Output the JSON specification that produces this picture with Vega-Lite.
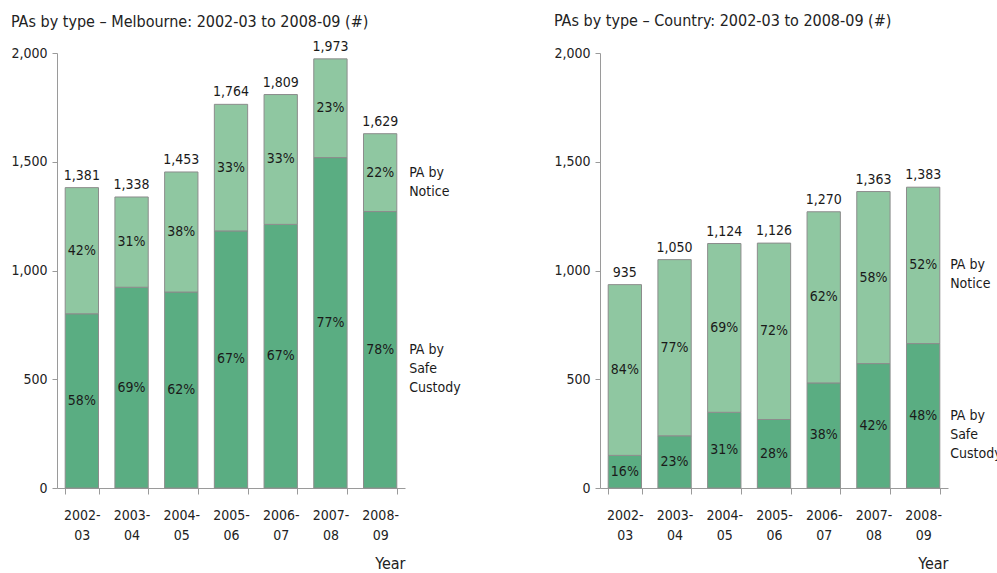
{
  "$schema": "https://vega.github.io/schema/vega-lite/v6.json",
  "background": "white",
  "padding": {"left": 10, "top": 13, "right": 0, "bottom": 0},
  "spacing": 92,
  "config": {
    "font": "DejaVu Sans Condensed",
    "view": {"stroke": null},
    "text": {"font": "DejaVu Sans Condensed", "fontSize": 14, "color": "#1a1a1a"},
    "axis": {"labelFont": "DejaVu Sans Condensed", "titleFont": "DejaVu Sans Condensed", "labelFontSize": 14, "labelColor": "#222", "domainColor": "#9a9a9a", "tickColor": "#9a9a9a", "grid": false, "titleFontWeight": "normal", "titleColor": "#222"},
    "title": {"font": "DejaVu Sans Condensed", "fontSize": 16, "fontWeight": "normal", "color": "#222"}
  },
  "datasets": {
    "mel": [
      {"year": "2002-03", "type": "PA by\nSafe\nCustody", "count": 801, "pct": 0.58},
      {"year": "2002-03", "type": "PA by\nNotice", "count": 580, "pct": 0.42},
      {"year": "2003-04", "type": "PA by\nSafe\nCustody", "count": 923, "pct": 0.69},
      {"year": "2003-04", "type": "PA by\nNotice", "count": 415, "pct": 0.31},
      {"year": "2004-05", "type": "PA by\nSafe\nCustody", "count": 901, "pct": 0.62},
      {"year": "2004-05", "type": "PA by\nNotice", "count": 552, "pct": 0.38},
      {"year": "2005-06", "type": "PA by\nSafe\nCustody", "count": 1182, "pct": 0.67},
      {"year": "2005-06", "type": "PA by\nNotice", "count": 582, "pct": 0.33},
      {"year": "2006-07", "type": "PA by\nSafe\nCustody", "count": 1212, "pct": 0.67},
      {"year": "2006-07", "type": "PA by\nNotice", "count": 597, "pct": 0.33},
      {"year": "2007-08", "type": "PA by\nSafe\nCustody", "count": 1519, "pct": 0.77},
      {"year": "2007-08", "type": "PA by\nNotice", "count": 454, "pct": 0.23},
      {"year": "2008-09", "type": "PA by\nSafe\nCustody", "count": 1271, "pct": 0.78},
      {"year": "2008-09", "type": "PA by\nNotice", "count": 358, "pct": 0.22}
    ],
    "cty": [
      {"year": "2002-03", "type": "PA by\nSafe\nCustody", "count": 150, "pct": 0.16},
      {"year": "2002-03", "type": "PA by\nNotice", "count": 785, "pct": 0.84},
      {"year": "2003-04", "type": "PA by\nSafe\nCustody", "count": 240, "pct": 0.23},
      {"year": "2003-04", "type": "PA by\nNotice", "count": 810, "pct": 0.77},
      {"year": "2004-05", "type": "PA by\nSafe\nCustody", "count": 348, "pct": 0.31},
      {"year": "2004-05", "type": "PA by\nNotice", "count": 776, "pct": 0.69},
      {"year": "2005-06", "type": "PA by\nSafe\nCustody", "count": 315, "pct": 0.28},
      {"year": "2005-06", "type": "PA by\nNotice", "count": 811, "pct": 0.72},
      {"year": "2006-07", "type": "PA by\nSafe\nCustody", "count": 483, "pct": 0.38},
      {"year": "2006-07", "type": "PA by\nNotice", "count": 787, "pct": 0.62},
      {"year": "2007-08", "type": "PA by\nSafe\nCustody", "count": 572, "pct": 0.42},
      {"year": "2007-08", "type": "PA by\nNotice", "count": 791, "pct": 0.58},
      {"year": "2008-09", "type": "PA by\nSafe\nCustody", "count": 664, "pct": 0.48},
      {"year": "2008-09", "type": "PA by\nNotice", "count": 719, "pct": 0.52}
    ]
  },
  "hconcat": [
    {
      "width": 348, "height": 435,
      "title": {"text": "PAs by type – Melbourne: 2002-03 to 2008-09 (#)", "anchor": "start", "frame": "bounds", "offset": 10},
      "data": {"name": "mel"},
      "transform": [
        {"stack": "count", "groupby": ["year"], "sort": [{"field": "type", "order": "descending"}], "as": ["y0", "y1"]},
        {"calculate": "(datum.y0 + datum.y1) / 2", "as": "mid"}
      ],
      "encoding": {
        "x": {"field": "year", "type": "ordinal", "title": "Year", "scale": {"paddingInner": 0.33},
          "axis": {"labelAngle": 0, "labelExpr": "[slice(datum.label, 0, 5), slice(datum.label, 5)]", "labelLineHeight": 20, "tickBand": "extent", "tickSize": 6, "labelPadding": 14, "titleAnchor": "end", "titleAlign": "right", "titleFontSize": 16, "titlePadding": 13}}
      },
      "layer": [
        {"mark": {"type": "bar", "stroke": "#8c8c8c", "strokeWidth": 1},
          "encoding": {
            "y": {"field": "y0", "type": "quantitative", "title": null, "scale": {"domain": [0, 2000]}, "axis": {"values": [0, 500, 1000, 1500, 2000], "format": ",d", "tickSize": 5, "labelPadding": 5}},
            "y2": {"field": "y1"},
            "color": {"field": "type", "type": "nominal", "legend": null, "scale": {"domain": ["PA by\nSafe\nCustody", "PA by\nNotice"], "range": ["#5aad82", "#8fc7a1"]}}
          }},
        {"mark": {"type": "text"},
          "encoding": {"y": {"field": "mid", "type": "quantitative", "title": null, "axis": {"values": [0, 500, 1000, 1500, 2000], "format": ",d", "tickSize": 5, "labelPadding": 5}}, "text": {"field": "pct", "type": "quantitative", "format": ".0%"}}},
        {"transform": [{"filter": "datum.type == 'PA by\\nNotice'"}],
          "mark": {"type": "text", "baseline": "bottom", "dy": -5},
          "encoding": {"y": {"field": "y1", "type": "quantitative", "title": null, "axis": {"values": [0, 500, 1000, 1500, 2000], "format": ",d", "tickSize": 5, "labelPadding": 5}}, "text": {"field": "y1", "type": "quantitative", "format": ","}}},
        {"transform": [{"filter": "datum.year == '2008-09'"}],
          "mark": {"type": "text", "align": "left", "dx": 29, "lineBreak": "\n", "lineHeight": 19},
          "encoding": {"y": {"field": "mid", "type": "quantitative", "title": null, "axis": {"values": [0, 500, 1000, 1500, 2000], "format": ",d", "tickSize": 5, "labelPadding": 5}}, "text": {"field": "type", "type": "nominal"}}}
      ]
    },
    {
      "width": 348, "height": 435,
      "title": {"text": "PAs by type – Country: 2002-03 to 2008-09 (#)", "anchor": "start", "frame": "bounds", "offset": 17},
      "data": {"name": "cty"},
      "transform": [
        {"stack": "count", "groupby": ["year"], "sort": [{"field": "type", "order": "descending"}], "as": ["y0", "y1"]},
        {"calculate": "(datum.y0 + datum.y1) / 2", "as": "mid"}
      ],
      "encoding": {
        "x": {"field": "year", "type": "ordinal", "title": "Year", "scale": {"paddingInner": 0.33},
          "axis": {"labelAngle": 0, "labelExpr": "[slice(datum.label, 0, 5), slice(datum.label, 5)]", "labelLineHeight": 20, "tickBand": "extent", "tickSize": 6, "labelPadding": 14, "titleAnchor": "end", "titleAlign": "right", "titleFontSize": 16, "titlePadding": 13}}
      },
      "layer": [
        {"mark": {"type": "bar", "stroke": "#8c8c8c", "strokeWidth": 1},
          "encoding": {
            "y": {"field": "y0", "type": "quantitative", "title": null, "scale": {"domain": [0, 2000]}, "axis": {"values": [0, 500, 1000, 1500, 2000], "format": ",d", "tickSize": 5, "labelPadding": 5}},
            "y2": {"field": "y1"},
            "color": {"field": "type", "type": "nominal", "legend": null, "scale": {"domain": ["PA by\nSafe\nCustody", "PA by\nNotice"], "range": ["#5aad82", "#8fc7a1"]}}
          }},
        {"mark": {"type": "text"},
          "encoding": {"y": {"field": "mid", "type": "quantitative", "title": null, "axis": {"values": [0, 500, 1000, 1500, 2000], "format": ",d", "tickSize": 5, "labelPadding": 5}}, "text": {"field": "pct", "type": "quantitative", "format": ".0%"}}},
        {"transform": [{"filter": "datum.type == 'PA by\\nNotice'"}],
          "mark": {"type": "text", "baseline": "bottom", "dy": -5},
          "encoding": {"y": {"field": "y1", "type": "quantitative", "title": null, "axis": {"values": [0, 500, 1000, 1500, 2000], "format": ",d", "tickSize": 5, "labelPadding": 5}}, "text": {"field": "y1", "type": "quantitative", "format": ","}}},
        {"transform": [{"filter": "datum.year == '2008-09'"}],
          "mark": {"type": "text", "align": "left", "dx": 27, "lineBreak": "\n", "lineHeight": 19},
          "encoding": {"y": {"field": "mid", "type": "quantitative", "title": null, "axis": {"values": [0, 500, 1000, 1500, 2000], "format": ",d", "tickSize": 5, "labelPadding": 5}}, "text": {"field": "type", "type": "nominal"}}}
      ]
    }
  ]
}
